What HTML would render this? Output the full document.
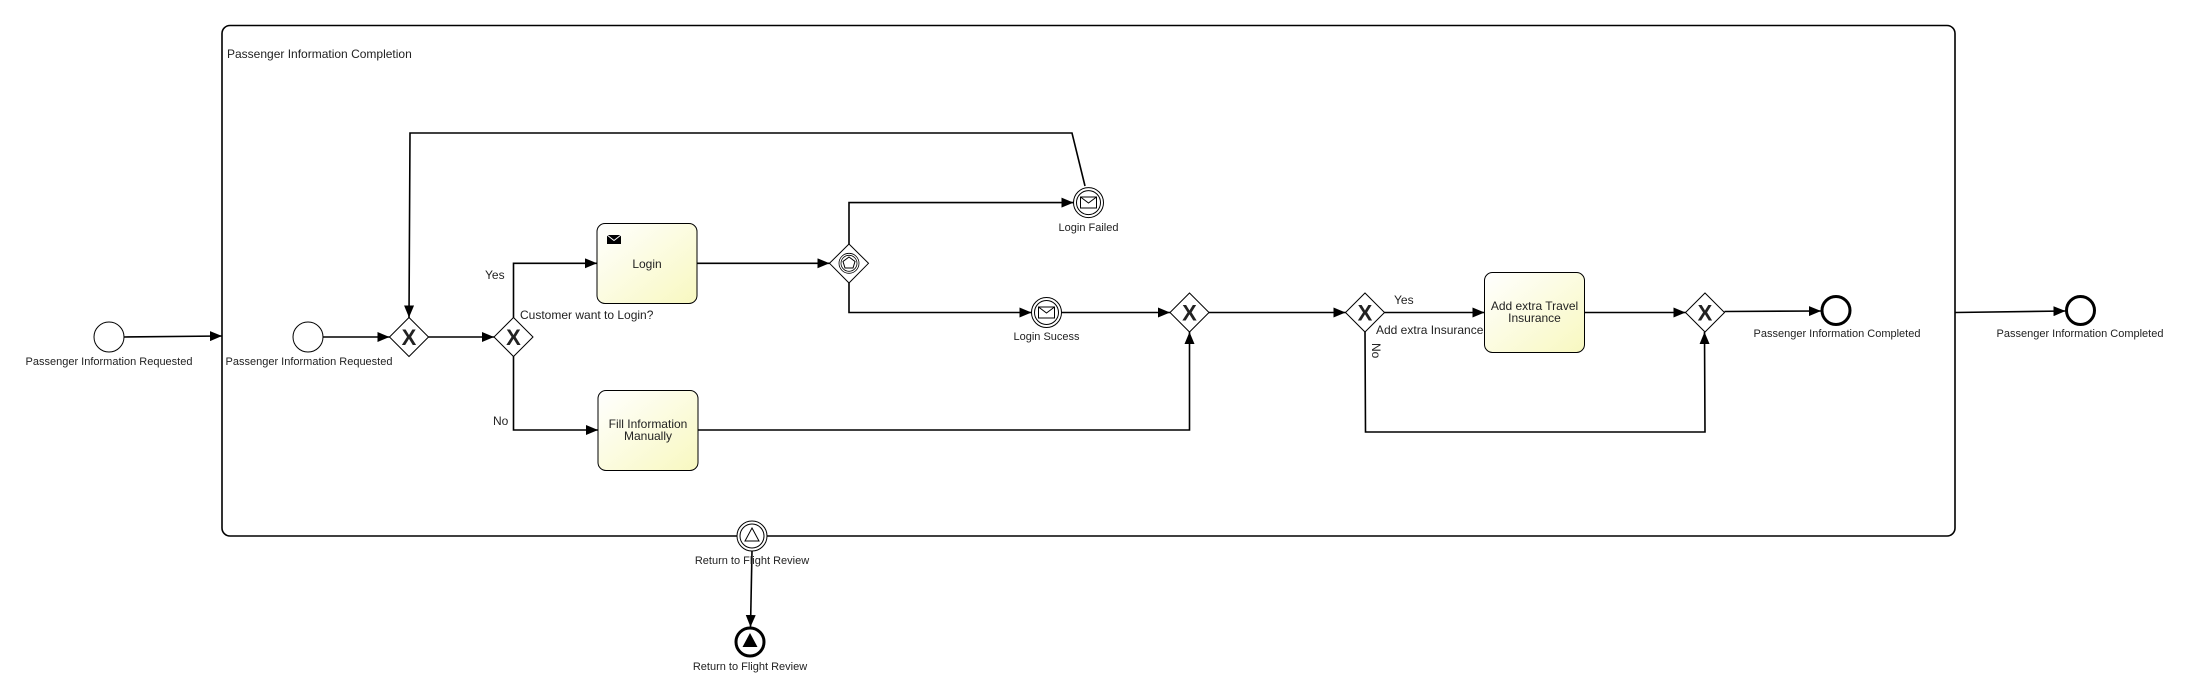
<!DOCTYPE html>
<html><head><meta charset="utf-8"><style>
html,body{margin:0;padding:0;background:#fff;}
svg{display:block;}
text{font-family:"Liberation Sans",sans-serif;fill:#222;}
</style></head><body>
<svg width="2190" height="695" viewBox="0 0 2190 695" xmlns="http://www.w3.org/2000/svg">
<defs>
<marker id="a" viewBox="0 0 12 10" refX="12" refY="5" markerWidth="12" markerHeight="10" markerUnits="userSpaceOnUse" orient="auto">
<path d="M0,0 L12,5 L0,10 Z" fill="#000"/></marker>
<linearGradient id="g" x1="0" y1="0" x2="1" y2="1">
<stop offset="0" stop-color="#ffffff"/><stop offset="1" stop-color="#f8f8c0"/></linearGradient>
</defs>
<g fill="none" stroke="#000" stroke-width="1.6">
<rect x="222" y="25.5" width="1733" height="510.5" rx="8"/>
</g>
<text x="227" y="58" font-size="12">Passenger Information Completion</text>

<!-- outer start -->
<circle cx="109" cy="337" r="15" fill="#fff" stroke="#000" stroke-width="1"/>
<text x="109" y="365" font-size="11" text-anchor="middle">Passenger Information Requested</text>
<g fill="none" stroke="#000" stroke-width="1.6">
<line x1="124" y1="337" x2="222" y2="336" marker-end="url(#a)"/>
</g>
<!-- inner start -->
<circle cx="308" cy="337" r="15" fill="#fff" stroke="#000" stroke-width="1"/>
<text x="309" y="365" font-size="11" text-anchor="middle">Passenger Information Requested</text>

<g fill="none" stroke="#000" stroke-width="1.6">
<line x1="323" y1="337" x2="389.5" y2="337" marker-end="url(#a)"/>
<line x1="428.5" y1="337" x2="494" y2="337" marker-end="url(#a)"/>
<polyline points="1085,186 1072,133 410,133 409,317.5" marker-end="url(#a)"/>
<polyline points="513.5,317.5 513.5,263.3 597,263.3" marker-end="url(#a)"/>
<polyline points="513.5,356.5 513.5,430 598,430" marker-end="url(#a)"/>
<line x1="697" y1="263.3" x2="829.5" y2="263.3" marker-end="url(#a)"/>
<polyline points="849,244 849,202.6 1073.5,202.6" marker-end="url(#a)"/>
<polyline points="849,283 849,312.5 1031.5,312.5" marker-end="url(#a)"/>
<line x1="1061.5" y1="312.5" x2="1170" y2="312.5" marker-end="url(#a)"/>
<polyline points="698,430 1189.5,430 1189.5,332" marker-end="url(#a)"/>
<line x1="1209" y1="312.5" x2="1345.5" y2="312.5" marker-end="url(#a)"/>
<line x1="1384.5" y1="312.5" x2="1484.5" y2="312.5" marker-end="url(#a)"/>
<polyline points="1365,332 1365.5,432 1705,432 1704.5,332" marker-end="url(#a)"/>
<line x1="1584.5" y1="312.5" x2="1685.5" y2="312.5" marker-end="url(#a)"/>
<line x1="1724.5" y1="311.5" x2="1821" y2="311" marker-end="url(#a)"/>
<line x1="1955" y1="312.5" x2="2065.5" y2="311" marker-end="url(#a)"/>
<line x1="752" y1="551" x2="750.5" y2="627" marker-end="url(#a)"/>
</g>

<!-- gateways -->
<g stroke="#000" stroke-width="1" fill="#fff">
<polygon points="409,317.5 428.5,337 409,356.5 389.5,337"/>
<polygon points="513.5,317.5 533,337 513.5,356.5 494,337"/>
<polygon points="849,244 868.5,263.3 849,283 829.5,263.3"/>
<polygon points="1189.5,293 1209,312.5 1189.5,332 1170,312.5"/>
<polygon points="1365,293 1384.5,312.5 1365,332 1345.5,312.5"/>
<polygon points="1705,293 1724.5,312.5 1705,332 1685.5,312.5"/>
</g>
<g font-size="22" font-weight="bold" text-anchor="middle">
<text x="409" y="345">X</text>
<text x="513.5" y="345">X</text>
<text x="1189.5" y="320.5">X</text>
<text x="1365" y="320.5">X</text>
<text x="1705" y="320.5">X</text>
</g>
<!-- event gateway symbol -->
<circle cx="849" cy="263.3" r="10" fill="none" stroke="#000" stroke-width="0.8"/>
<circle cx="849" cy="263.3" r="8" fill="none" stroke="#000" stroke-width="0.8"/>
<polygon points="849,257 855,261.5 853,268 845,268 843,261.5" fill="none" stroke="#000" stroke-width="1"/>

<!-- tasks -->
<rect x="597" y="223.5" width="100" height="80" rx="8" fill="url(#g)" stroke="#000" stroke-width="1"/>
<rect x="607" y="235" width="14" height="9" fill="#000"/>
<polyline points="607,235 614,240.5 621,235" fill="none" stroke="#fff" stroke-width="1"/>
<text x="647" y="268" font-size="12" text-anchor="middle">Login</text>
<rect x="598" y="390.5" width="100" height="80" rx="8" fill="url(#g)" stroke="#000" stroke-width="1"/>
<text x="648" y="428" font-size="12" text-anchor="middle">Fill Information</text>
<text x="648" y="440" font-size="12" text-anchor="middle">Manually</text>
<rect x="1484.5" y="272.5" width="100" height="80" rx="8" fill="url(#g)" stroke="#000" stroke-width="1"/>
<text x="1534.5" y="310" font-size="12" text-anchor="middle">Add extra Travel</text>
<text x="1534.5" y="322" font-size="12" text-anchor="middle">Insurance</text>

<!-- intermediate events -->
<g fill="#fff" stroke="#000" stroke-width="1">
<circle cx="1088.5" cy="202.6" r="15"/><circle cx="1088.5" cy="202.6" r="12"/>
<rect x="1080.5" y="197" width="16" height="11"/>
<polyline points="1080.5,197 1088.5,203 1096.5,197" fill="none"/>
<circle cx="1046.5" cy="312.5" r="15"/><circle cx="1046.5" cy="312.5" r="12"/>
<rect x="1038.5" y="307" width="16" height="11"/>
<polyline points="1038.5,307 1046.5,313 1054.5,307" fill="none"/>
<circle cx="752" cy="536" r="15"/><circle cx="752" cy="536" r="12"/>
<polygon points="752,528 759,541 745,541"/>
</g>
<!-- end events -->
<g fill="#fff" stroke="#000" stroke-width="3">
<circle cx="1836" cy="310.5" r="14"/>
<circle cx="2080.5" cy="310.5" r="14"/>
<circle cx="750" cy="642" r="14"/>
</g>
<polygon points="750,633 757.5,647 742.5,647" fill="#000"/>

<!-- labels -->
<g font-size="11" text-anchor="middle">
<text x="1088.5" y="231">Login Failed</text>
<text x="1046.5" y="340">Login Sucess</text>
<text x="752" y="564">Return to Flight Review</text>
<text x="750" y="670">Return to Flight Review</text>
<text x="1837" y="337">Passenger Information Completed</text>
<text x="2080" y="337">Passenger Information Completed</text>
</g>
<g font-size="12">
<text x="485" y="279">Yes</text>
<text x="520" y="319">Customer want to Login?</text>
<text x="493" y="425">No</text>
<text x="1394" y="304">Yes</text>
<text x="1376" y="334">Add extra Insurance</text>
<text transform="translate(1372,343) rotate(90)">No</text>
</g>
</svg>
</body></html>
